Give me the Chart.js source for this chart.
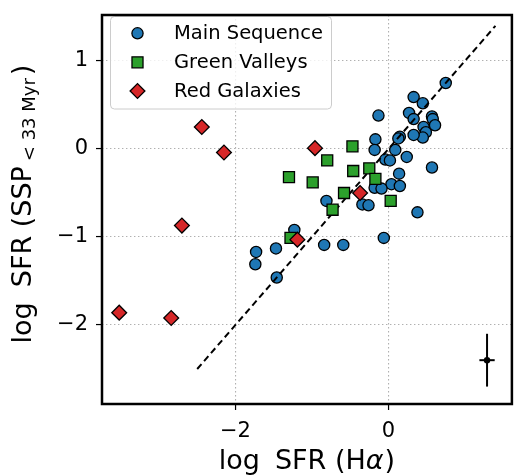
<!DOCTYPE html>
<html>
<head>
<meta charset="utf-8">
<script src="https://cdn.jsdelivr.net/npm/chart.js@4"></script>
<style>
  html, body { margin: 0; padding: 0; background: #fff; }
  #wrap { width: 521px; height: 475px; }
</style>
</head>
<body>
<div id="wrap"><canvas id="c"></canvas></div>
<script>
// x = log SFR(Halpha), y = log SFR(SSP < 33 Myr)
const msX = [0.75, 0.33, 0.45, -0.13, 0.27, 0.33, 0.57, 0.58, 0.61, 0.46, 0.49, 0.45, 0.33, 0.15, 0.13, -0.17, -0.18, 0.09, -0.04, 0.02, 0.24, 0.57, 0.14, 0.04, 0.15, -0.18, -0.09, 0.38, -0.81, -0.34, -0.26, -0.06, -1.23, -0.84, -0.59, -1.47, -1.73, -1.74, -1.46]
const msY = [0.75, 0.59, 0.52, 0.38, 0.41, 0.34, 0.37, 0.34, 0.27, 0.25, 0.19, 0.13, 0.16, 0.14, 0.12, 0.11, -0.01, -0.01, -0.12, -0.13, -0.09, -0.21, -0.28, -0.40, -0.42, -0.44, -0.45, -0.72, -0.59, -0.63, -0.64, -1.01, -0.92, -1.09, -1.09, -1.13, -1.17, -1.31, -1.46]

const gvX = [-0.47, -0.80, -1.30, -0.99, -0.46, -0.25, -0.17, -0.58, -0.73, 0.03, -1.28]
const gvY = [0.03, -0.13, -0.32, -0.38, -0.25, -0.22, -0.34, -0.50, -0.69, -0.59, -1.01]

const rgX = [-2.44, -2.15, -0.96, -0.37, -1.19, -2.70, -3.52, -2.84]
const rgY = [0.25, -0.04, 0.01, -0.50, -1.03, -0.87, -1.86, -1.92]

// one-to-one line
const oneToOne = [-2.5, 1.4]

// typical error bar
const errX = [1.29]
const errY = [-2.40]
const errDX = [0.10]
const errDY = [0.30]

const xTicks = [-2, 0]
const yTicks = [-2, -1, 0, 1]

const seriesNames = ["Main Sequence", "Green Valleys", "Red Galaxies"]

const pts = (xs, ys) => xs.map((x, i) => ({x: x, y: ys[i]}))
const FONT = "'DejaVu Sans', sans-serif"

const msSet = {type: "scatter", label: seriesNames[0], data: pts(msX, msY), order: 4,
  pointStyle: "circle", pointRadius: 5.6, pointBorderWidth: 1.3, backgroundColor: "#1f77b4", borderColor: "#000"}
const gvSet = {type: "scatter", label: seriesNames[1], data: pts(gvX, gvY), order: 2,
  pointStyle: "rect", pointRadius: 7.8, pointBorderWidth: 1.3, backgroundColor: "#2ca02c", borderColor: "#000"}
const rgSet = {type: "scatter", label: seriesNames[2], data: pts(rgX, rgY), order: 1,
  pointStyle: "rectRot", pointRadius: 7.4, pointBorderWidth: 1.3, backgroundColor: "#d62728", borderColor: "#000"}

const lineSet = {type: "line", data: pts(oneToOne, oneToOne), order: 3,
  borderColor: "#000", borderWidth: 2, borderDash: [6.5, 4], pointRadius: 0, fill: false}

const errV = {type: "line", data: [{x: errX[0], y: errY[0] - errDY[0]}, {x: errX[0], y: errY[0] + errDY[0]}], order: 0,
  borderColor: "#000", borderWidth: 2, pointRadius: 0}
const errH = {type: "line", data: [{x: errX[0] - errDX[0], y: errY[0]}, {x: errX[0] + errDX[0], y: errY[0]}], order: 0,
  borderColor: "#000", borderWidth: 2, pointRadius: 0}
const errP = {type: "scatter", data: pts(errX, errY), order: 0,
  pointStyle: "circle", pointRadius: 3.2, pointBorderWidth: 0, backgroundColor: "#000"}

// draw a row of text pieces centred on 0 in the current frame
function drawPieces(ctx, pieces) {
  let total = 0
  pieces.forEach(p => { ctx.font = p.font; p.w = ctx.measureText(p.text).width; total += p.w + (p.gap || 0) })
  let pos = -total / 2
  ctx.textBaseline = "alphabetic"
  ctx.textAlign = "left"
  pieces.forEach(p => {
    pos += p.gap || 0
    ctx.font = p.font
    ctx.fillText(p.text, pos, p.dy || 0)
    pos += p.w
  })
}

const decorations = {
  id: "decorations",
  afterDatasetsDraw(chart) {
    const ctx = chart.ctx
    // legend box
    ctx.save()
    const bx = 110.5, by = 16.5, bw = 221, bh = 92.5, r = 4
    ctx.beginPath()
    ctx.roundRect(bx, by, bw, bh, r)
    ctx.fillStyle = "rgba(255,255,255,0.8)"
    ctx.fill()
    ctx.strokeStyle = "#cccccc"
    ctx.lineWidth = 1
    ctx.stroke()
    const sets = [msSet, gvSet, rgSet]
    const rows = [33.3, 62.3, 91]
    sets.forEach((s, i) => {
      ctx.fillStyle = s.backgroundColor
      ctx.strokeStyle = s.borderColor
      ctx.lineWidth = s.pointBorderWidth
      Chart.helpers.drawPoint(ctx, {pointStyle: s.pointStyle, radius: s.pointRadius, rotation: 0, borderWidth: s.pointBorderWidth}, 137.5, rows[i])
      ctx.fillStyle = "#000"
      ctx.font = "19.5px " + FONT
      ctx.textBaseline = "middle"
      ctx.textAlign = "left"
      ctx.fillText(seriesNames[i], 174, rows[i] + 1)
    })
    ctx.restore()
  },
  afterDraw(chart) {
    const ctx = chart.ctx
    const a = chart.chartArea
    ctx.save()
    ctx.strokeStyle = "#000"
    ctx.lineWidth = 2.5
    ctx.strokeRect(a.left, a.top, a.right - a.left, a.bottom - a.top)

    ctx.fillStyle = "#000"
    const big = "27px " + FONT
    const ital = "italic 27px " + FONT
    const sub = "18px " + FONT
    // x title
    ctx.save()
    ctx.translate((a.left + a.right) / 2, 469)
    drawPieces(ctx, [
      {text: "log", font: big},
      {text: "SFR (H", font: big, gap: 15},
      {text: "\u03b1", font: ital},
      {text: ")", font: big, gap: 1}
    ])
    ctx.restore()
    // y title
    ctx.save()
    ctx.translate(31, 204)
    ctx.rotate(-Math.PI / 2)
    drawPieces(ctx, [
      {text: "log", font: big},
      {text: "SFR (SSP", font: big, gap: 15},
      {text: "< 33 Myr", font: sub, dy: 4, gap: 5},
      {text: ")", font: big, gap: 3}
    ])
    ctx.restore()
    ctx.restore()
  }
}

const tickFont = {family: FONT, size: 21}
const gridOpts = {color: "#b0b0b0", lineWidth: 1.1, tickLength: 6, tickColor: "#000", tickWidth: 1.2, drawTicks: true}
const minus = v => String(v).replace("-", "\u2212")

new Chart("c", {
  data: {datasets: [msSet, gvSet, rgSet, lineSet, errV, errH, errP]},
  options: {
    responsive: true,
    maintainAspectRatio: false,
    animation: false,
    devicePixelRatio: 1,
    layout: {padding: {top: 15, right: 2, left: 0, bottom: 0}},
    plugins: {legend: {display: false}, tooltip: {enabled: false}},
    scales: {
      x: {
        type: "linear", min: -3.745, max: 1.615,
        afterBuildTicks: s => { s.ticks = xTicks.map(v => ({value: v})) },
        afterFit: s => { s.height = 71; s.paddingLeft = 0; s.paddingRight = 0 },
        ticks: {font: tickFont, color: "#000", padding: 9, callback: minus},
        grid: gridOpts,
        border: {display: false, dash: [1.4, 2.6]}
      },
      y: {
        type: "linear", min: -2.898, max: 1.523,
        afterBuildTicks: s => { s.ticks = yTicks.map(v => ({value: v})) },
        afterFit: s => { s.width = 102; s.paddingTop = 0; s.paddingBottom = 0 },
        ticks: {font: tickFont, color: "#000", padding: 8, callback: minus},
        grid: gridOpts,
        border: {display: false, dash: [1.4, 2.6]}
      }
    }
  },
  plugins: [decorations]
})
</script>
</body>
</html>
